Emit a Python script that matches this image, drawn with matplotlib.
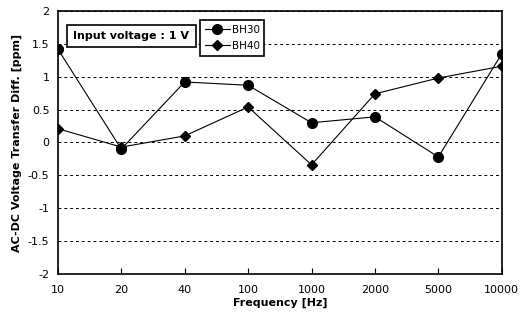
import matplotlib
matplotlib.use("Agg")
import matplotlib.pyplot as plt

# Data
freq_labels = ["10", "20", "40", "100", "1000", "2000", "5000", "10000"]
bh30 = [1.42, -0.10, 0.92, 0.87, 0.30, 0.39, -0.22, 1.35]
bh40 = [0.21, -0.07, 0.10, 0.54, -0.34, 0.74, 0.98, 1.16]

fig = plt.figure(figsize=(5.26, 3.22), dpi=100)
ax = fig.add_axes([0.110, 0.149, 0.844, 0.817])

x = list(range(len(freq_labels)))
ax.plot(x, bh30, color="black", lw=0.8, marker="o", markersize=7, label="BH30")
ax.plot(x, bh40, color="black", lw=0.8, marker="D", markersize=5, label="BH40")

ax.set_xlim(0, len(freq_labels) - 1)
ax.set_ylim(-2, 2)
ax.set_xticks(x)
ax.set_xticklabels(freq_labels, fontsize=8)
ax.set_yticks([-2, -1.5, -1, -0.5, 0, 0.5, 1, 1.5, 2])
ax.set_yticklabels(["-2", "-1.5", "-1", "-0.5", "0", "0.5", "1", "1.5", "2"], fontsize=8)
ax.tick_params(axis="x", direction="in", length=4, pad=8)
ax.tick_params(axis="y", length=0, pad=6)
ax.grid(axis="y", linestyle=(0, (3, 3)), color="black", lw=0.7)
for side in ax.spines.values():
    side.set_linewidth(1.2)

ax.set_xlabel("Frequency [Hz]", fontsize=8, fontweight="bold", labelpad=2)
ax.set_ylabel("AC-DC Voltage Transfer Diff. [ppm]", fontsize=8, fontweight="bold", labelpad=4)

ax.text(0.035, 0.906, "Input voltage : 1 V", transform=ax.transAxes, fontsize=8,
        fontweight="bold", ha="left", va="center",
        bbox=dict(boxstyle="square,pad=0.55", fc="white", ec="black", lw=1.2))

leg = ax.legend(loc="upper left", bbox_to_anchor=(0.320, 0.965), fontsize=7.5,
                frameon=True, fancybox=False, edgecolor="black", framealpha=1,
                handlelength=2.4, borderpad=0.45, labelspacing=0.6, handletextpad=0.2,
                borderaxespad=0)
leg.get_frame().set_linewidth(1.2)

fig.savefig("out.png", dpi=100)
